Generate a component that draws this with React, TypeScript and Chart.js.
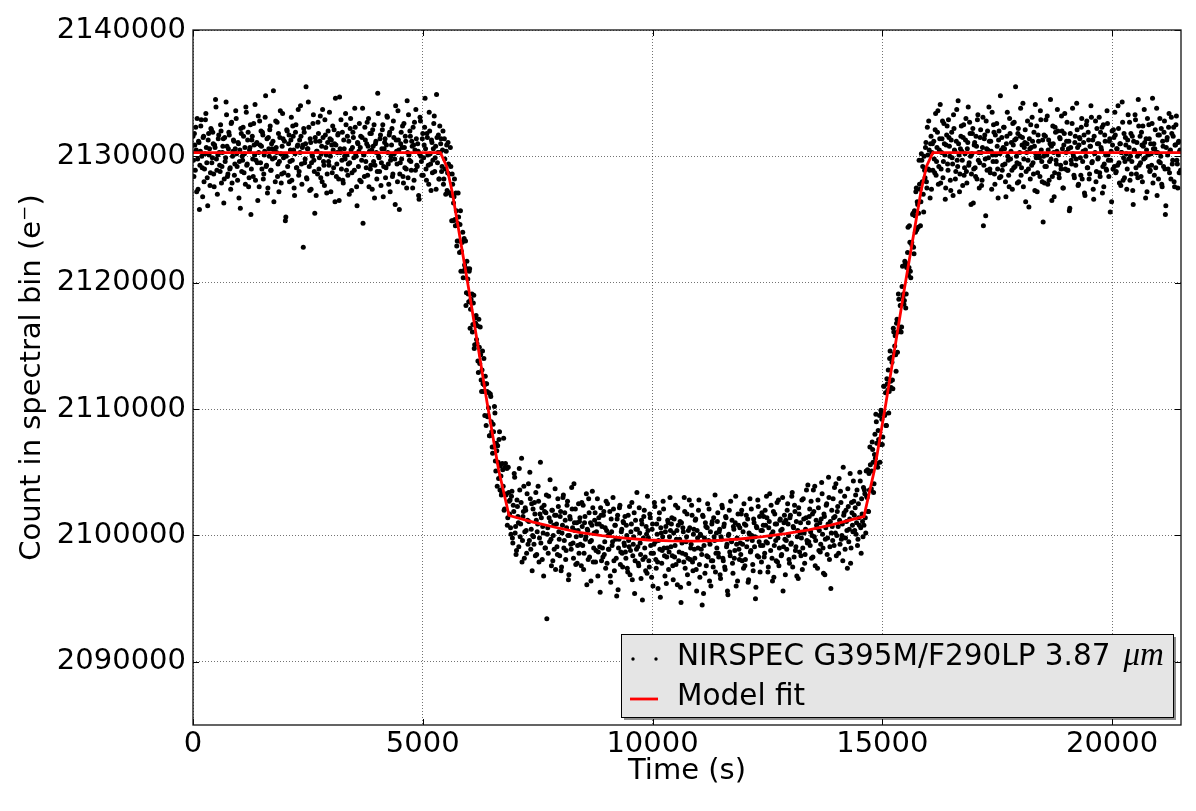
import React, { useEffect, useRef } from 'react';
import { Chart, registerables } from 'chart.js';

Chart.register(...registerables);

// exposure cadence of the light curve (s); counts below are in units of 1000 e-
// two interleaved read-out series, offset by half a cadence
const CADENCE_S = 20;
const segmentStartS = [0, 5400, 6900, 14600, 16120];
const segmentStartBS = [10, 5410, 6910, 14610, 16130];

const preTransitK = [
  2131.6, 2128.4, 2130.9, 2132.3, 2127.2, 2129.8, 2131.2, 2125.8, 2130.4, 2132.9, 2129.1, 2131.5, 2128.0, 2130.2, 2133.4,
  2129.5, 2126.1, 2131.8, 2130.6, 2128.7, 2132.1, 2129.9, 2131.0, 2127.6, 2130.7, 2133.9, 2128.9, 2130.1, 2131.7, 2129.3,
  2132.5, 2127.9, 2130.3, 2131.4, 2128.2, 2129.6, 2134.3, 2130.8, 2128.6, 2131.9, 2129.0, 2127.4, 2132.7, 2130.0, 2131.3,
  2128.5, 2130.6, 2133.0, 2129.2, 2131.1, 2126.7, 2130.5, 2132.2, 2128.8, 2129.7, 2131.6, 2130.2, 2127.8, 2133.5, 2129.4,
  2131.9, 2128.3, 2130.7, 2125.4, 2131.3, 2129.8, 2132.6, 2130.1, 2128.1, 2131.0, 2129.5, 2133.2, 2127.6, 2130.9, 2132.0,
  2129.0, 2131.7, 2128.6, 2130.4, 2134.8, 2129.3, 2127.1, 2131.5, 2130.0, 2132.4, 2128.9, 2130.6, 2131.2, 2126.4, 2129.9,
  2132.8, 2130.3, 2128.4, 2131.8, 2129.6, 2133.6, 2127.9, 2130.8, 2131.4, 2128.7, 2130.1, 2125.2, 2132.1, 2129.2, 2131.0,
  2128.0, 2130.5, 2133.1, 2129.7, 2131.6, 2127.5, 2130.2, 2132.5, 2129.1, 2130.9, 2128.5, 2131.3, 2134.0, 2129.4, 2130.7,
  2122.8, 2131.9, 2129.8, 2135.5, 2128.2, 2130.6, 2132.3, 2127.3, 2131.1, 2129.5, 2130.0, 2133.3, 2128.8, 2131.5, 2126.9,
  2130.4, 2132.7, 2129.0, 2131.2, 2128.3, 2130.8, 2133.7, 2129.6, 2127.7, 2131.7, 2130.1, 2128.6, 2132.0, 2129.3, 2131.4,
  2127.2, 2130.9, 2132.4, 2129.1, 2131.0, 2134.6, 2128.4, 2130.3, 2131.8, 2126.5, 2130.6, 2132.9, 2129.7, 2128.1, 2131.3,
  2130.0, 2133.4, 2128.9, 2131.6, 2129.4, 2127.0, 2132.2, 2130.5, 2128.7, 2131.9, 2129.9, 2133.8, 2130.2, 2127.6, 2131.1,
  2129.2, 2132.6, 2130.7, 2128.0, 2131.5, 2124.7, 2130.1, 2132.3, 2129.6, 2131.0, 2128.5, 2133.0, 2130.4, 2129.0, 2131.8,
  2127.4, 2130.8, 2132.5, 2129.3, 2131.2, 2128.2, 2135.0, 2130.0, 2128.8, 2131.7, 2129.5, 2132.1, 2126.8, 2130.6, 2131.4,
  2129.1, 2133.2, 2130.3, 2127.8, 2131.9, 2129.7, 2130.9, 2128.4, 2132.8, 2130.2, 2126.2, 2131.3, 2129.4, 2133.6, 2130.5,
  2128.6, 2131.0, 2129.8, 2132.4, 2127.9, 2130.7, 2131.6, 2129.0, 2134.4, 2128.3, 2130.1, 2132.0, 2129.6, 2131.2, 2127.5,
  2130.9, 2132.7, 2128.9, 2131.4, 2129.2, 2130.4, 2126.6, 2133.1, 2130.0, 2128.5, 2131.8, 2129.9, 2132.3, 2130.6, 2128.1,
  2131.5, 2129.3, 2133.5, 2130.2, 2127.3, 2131.1, 2129.7, 2132.6, 2128.8, 2130.8, 2134.9, 2129.5, 2131.7, 2128.2, 2130.3,
];
const preTransitBK = [
  2129.7, 2131.8, 2128.9, 2130.5, 2133.0, 2127.4, 2131.1, 2129.3, 2132.4, 2130.0, 2126.8, 2131.6, 2129.0, 2132.9, 2130.7,
  2128.3, 2131.3, 2130.1, 2127.7, 2132.2, 2129.5, 2131.9, 2128.6, 2130.9, 2134.5, 2129.8, 2127.0, 2131.4, 2130.3, 2128.8,
  2132.0, 2129.2, 2130.8, 2126.3, 2131.5, 2129.9, 2133.3, 2128.4, 2130.6, 2131.7, 2129.1, 2132.6, 2127.9, 2130.4, 2131.2,
  2129.4, 2133.6, 2130.2, 2128.1, 2131.0, 2129.6, 2125.9, 2131.8, 2130.0, 2132.3, 2128.7, 2130.7, 2133.9, 2129.3, 2131.3,
  2127.6, 2130.5, 2132.5, 2129.0, 2131.6, 2128.4, 2130.9, 2134.1, 2129.7, 2131.1, 2126.5, 2130.3, 2132.8, 2129.5, 2130.8,
  2131.9, 2128.2, 2130.1, 2133.1, 2129.2, 2131.4, 2127.5, 2130.6, 2132.1, 2128.9, 2131.0, 2129.8, 2135.2, 2130.4, 2128.0,
  2130.7, 2132.7, 2129.4, 2127.2, 2131.5, 2130.2, 2128.6, 2133.4, 2129.9, 2131.2, 2124.9, 2130.0, 2132.0, 2128.5, 2131.7,
  2129.6, 2131.3, 2128.1, 2132.4, 2130.5, 2126.9, 2131.9, 2129.1, 2130.8, 2133.7, 2128.8, 2130.3, 2131.6, 2127.8, 2130.9,
  2132.2, 2129.5, 2131.0, 2128.3, 2130.6, 2134.3, 2129.2, 2131.4, 2127.4, 2130.1, 2132.6, 2129.7, 2125.5, 2131.2, 2130.4,
  2128.6, 2131.8, 2129.9, 2133.2, 2130.2, 2128.0, 2131.5, 2129.3, 2132.9, 2130.7, 2127.1, 2131.1, 2129.6, 2133.5, 2130.0,
  2131.3, 2128.7, 2130.5, 2132.1, 2126.4, 2130.9, 2129.4, 2131.7, 2128.2, 2134.7, 2130.3, 2129.0, 2131.9, 2127.9, 2130.6,
  2129.8, 2132.5, 2130.1, 2128.5, 2131.2, 2129.5, 2133.0, 2127.3, 2130.7, 2131.5, 2128.9, 2132.3, 2130.0, 2126.1, 2131.0,
  2130.4, 2128.1, 2131.6, 2129.7, 2133.8, 2130.2, 2128.4, 2131.3, 2129.1, 2132.7, 2130.8, 2127.6, 2131.8, 2129.3, 2130.5,
  2132.1, 2129.6, 2126.7, 2131.0, 2130.3, 2128.8, 2133.4, 2129.9, 2131.4, 2127.7, 2130.6, 2132.5, 2129.2, 2131.1, 2128.3,
  2130.9, 2133.1, 2129.4, 2131.7, 2127.2, 2130.0, 2132.2, 2128.6, 2131.5, 2129.8, 2134.0, 2130.4, 2128.0, 2131.3, 2125.8,
  2129.5, 2131.9, 2130.7, 2128.4, 2132.6, 2129.1, 2131.2, 2127.5, 2130.3, 2133.3, 2129.7, 2131.6, 2128.9, 2130.8, 2132.3,
  2128.1, 2130.5, 2133.7, 2129.3, 2131.0, 2126.9, 2130.2, 2132.8, 2129.6, 2131.4, 2128.5, 2130.9, 2134.6, 2129.0, 2131.8,
  2130.1, 2127.8, 2132.0, 2129.4, 2131.3, 2128.7, 2130.6, 2133.2, 2129.9, 2127.4, 2131.5, 2130.3, 2128.2, 2132.4, 2131.0,
];

const ingressK = [
  2131.4, 2129.2, 2132.0, 2128.2, 2129.8, 2127.0, 2130.9, 2128.7, 2129.4, 2127.1, 2130.7, 2126.9, 2128.6, 2124.9, 2126.8,
  2125.0, 2127.1, 2122.9, 2124.7, 2125.2, 2122.4, 2125.7, 2122.5, 2123.2, 2120.4, 2123.5, 2121.1, 2118.2, 2121.7, 2120.3,
  2118.5, 2121.1, 2117.9, 2118.4, 2116.1, 2118.4, 2114.8, 2117.2, 2117.4, 2115.2, 2113.8, 2117.1, 2113.6, 2114.3, 2111.4,
  2114.6, 2111.4, 2111.9, 2112.6, 2108.7, 2111.4, 2109.5, 2111.3, 2107.9, 2111.0, 2108.2, 2106.5, 2108.2, 2110.2, 2105.9,
  2107.3, 2103.9, 2105.8, 2107.6, 2103.6, 2104.7, 2103.4, 2105.2, 2107.7, 2102.1, 2105.7, 2103.3, 2100.8, 2105.4, 2102.7,
];
const ingressBK = [
  2128.8, 2130.5, 2127.8, 2131.4, 2129.0, 2130.4, 2127.3, 2131.1, 2128.6, 2127.1, 2129.2, 2124.9, 2127.8, 2126.3, 2128.2,
  2124.5, 2125.7, 2123.3, 2127.1, 2123.3, 2124.6, 2120.9, 2123.2, 2124.0, 2120.9, 2121.4, 2123.3, 2119.2, 2121.1, 2119.1,
  2120.9, 2116.4, 2118.7, 2119.1, 2116.7, 2119.0, 2115.1, 2116.8, 2115.5, 2116.6, 2112.9, 2114.9, 2116.5, 2112.3, 2113.1,
  2112.0, 2114.0, 2109.5, 2112.0, 2112.0, 2109.4, 2110.1, 2107.9, 2111.2, 2109.0, 2107.0, 2108.8, 2107.0, 2109.7, 2105.1,
  2106.7, 2107.1, 2104.5, 2108.2, 2105.5, 2103.2, 2105.7, 2103.9, 2102.0, 2105.4, 2103.2, 2105.3, 2101.4, 2103.4, 2101.7,
];

const inTransitK = [
  2102.8, 2100.1, 2103.5, 2099.4, 2101.9, 2104.6, 2100.7, 2098.8, 2102.3, 2101.0, 2105.3, 2099.9, 2102.6, 2097.9, 2101.5, 2103.9, 2100.3, 2102.0, 2098.6, 2101.2, 2104.1, 2099.6, 2102.9, 2100.5, 2097.2,
  2102.1, 2099.3, 2101.7, 2103.4, 2098.5, 2100.9, 2102.7, 2099.8, 2105.8, 2101.4, 2098.1, 2100.2, 2102.4, 2099.0, 2101.8, 2093.4, 2100.6, 2103.1, 2099.5, 2101.1, 2097.6, 2102.0, 2100.0, 2098.9, 2103.7,
  2101.6, 2099.1, 2102.9, 2100.3, 2098.4, 2101.9, 2097.5, 2100.8, 2103.2, 2099.6, 2101.2, 2098.8, 2102.4, 2100.0, 2096.9, 2101.5, 2099.3, 2103.8, 2100.6, 2098.2, 2101.0, 2102.1, 2099.9, 2097.8, 2100.4,
  2098.6, 2101.4, 2100.0, 2102.6, 2099.2, 2097.3, 2101.0, 2099.7, 2103.3, 2100.5, 2098.1, 2101.8, 2099.5, 2096.4, 2100.8, 2102.2, 2099.0, 2101.2, 2097.9, 2100.3, 2102.9, 2098.7, 2100.9, 2095.5, 2101.6,
  2100.7, 2098.3, 2101.9, 2099.5, 2097.4, 2100.4, 2102.5, 2098.9, 2100.1, 2096.8, 2101.3, 2099.2, 2103.0, 2098.0, 2100.8, 2099.7, 2095.2, 2101.6, 2099.0, 2102.2, 2097.7, 2100.3, 2098.6, 2101.1, 2099.4,
  2101.5, 2098.2, 2100.0, 2097.1, 2099.6, 2102.3, 2098.8, 2100.9, 2096.5, 2099.3, 2101.8, 2098.0, 2100.5, 2103.4, 2099.1, 2097.6, 2100.2, 2098.5, 2101.2, 2094.9, 2099.8, 2102.0, 2098.3, 2100.7, 2097.0,
  2100.4, 2098.0, 2101.7, 2099.2, 2096.7, 2100.9, 2098.6, 2102.6, 2099.5, 2097.4, 2100.1, 2095.8, 2101.3, 2098.9, 2100.6, 2097.8, 2099.9, 2102.1, 2098.4, 2100.3, 2096.2, 2099.0, 2101.0, 2098.7, 2103.0,
  2099.1, 2101.4, 2097.6, 2100.2, 2098.3, 2102.4, 2099.7, 2096.1, 2100.8, 2098.7, 2101.1, 2094.7, 2099.4, 2100.6, 2097.9, 2101.9, 2098.5, 2099.9, 2096.9, 2100.4, 2102.8, 2098.1, 2099.3, 2101.6, 2097.2,
  2100.5, 2098.2, 2101.3, 2095.6, 2099.8, 2102.0, 2097.7, 2100.1, 2098.9, 2094.5, 2101.5, 2099.2, 2097.0, 2100.7, 2098.4, 2102.5, 2099.6, 2096.4, 2100.3, 2098.0, 2101.1, 2097.5, 2099.9, 2103.2, 2098.6,
  2099.0, 2101.8, 2098.3, 2100.5, 2096.6, 2099.7, 2102.2, 2098.0, 2100.9, 2097.3, 2101.4, 2099.3, 2095.3, 2100.1, 2098.7, 2102.7, 2099.5, 2097.8, 2100.7, 2098.2, 2101.0, 2096.0, 2099.8, 2101.7, 2098.9,
  2100.6, 2098.5, 2102.0, 2099.3, 2097.4, 2100.9, 2098.1, 2101.6, 2099.7, 2096.3, 2100.2, 2102.9, 2098.8, 2100.0, 2097.7, 2101.3, 2099.1, 2095.0, 2100.7, 2098.4, 2102.3, 2099.5, 2097.1, 2100.4, 2101.8,
  2099.2, 2101.5, 2098.6, 2100.8, 2103.1, 2099.4, 2097.5, 2101.1, 2099.9, 2102.4, 2098.2, 2100.3, 2096.7, 2101.7, 2099.6, 2100.9, 2097.9, 2102.8, 2099.0, 2101.3, 2098.4, 2100.5, 2095.6, 2101.0, 2099.7,
  2101.2, 2098.9, 2102.5, 2100.0, 2097.8, 2101.6, 2099.4, 2103.4, 2100.7, 2098.3, 2101.9, 2099.1, 2096.8, 2100.4, 2102.2, 2098.7, 2101.0, 2099.8, 2097.3, 2102.9, 2100.2, 2098.5, 2101.4, 2099.6, 2104.0,
  2099.5, 2102.1, 2100.3, 2098.2, 2101.7, 2103.6, 2099.9, 2097.6, 2101.2, 2100.6, 2102.8, 2098.8, 2101.0, 2099.3, 2104.2, 2100.1, 2097.0, 2101.5, 2099.7, 2102.4, 2098.5, 2100.9, 2103.0, 2099.1, 2095.8,
  2102.0, 2099.6, 2101.4, 2103.8, 2100.2, 2098.4, 2101.9, 2100.7, 2104.5, 2099.3, 2102.6, 2100.0, 2098.0, 2101.6, 2103.1, 2099.8, 2101.1, 2097.4, 2102.3, 2100.5, 2104.9, 2099.0, 2101.8, 2100.3, 2102.7,
  2100.4, 2103.2, 2101.0, 2099.2, 2102.5, 2100.8, 2104.3, 2098.6, 2101.7, 2099.9,
];
const inTransitBK = [
  2100.6, 2103.1, 2099.8, 2102.4, 2104.9, 2100.2, 2098.5, 2102.8, 2101.5, 2099.1, 2103.6, 2100.9, 2106.1, 2099.6, 2101.9, 2098.2, 2102.2, 2100.4, 2103.3, 2099.3, 2101.1, 2105.0, 2098.9, 2102.5, 2100.0,
  2099.9, 2102.6, 2098.4, 2101.2, 2100.3, 2103.9, 2097.9, 2101.7, 2099.4, 2102.2, 2100.7, 2096.8, 2101.9, 2099.0, 2103.2, 2100.1, 2098.6, 2101.4, 2104.4, 2099.7, 2102.0, 2098.0, 2100.8, 2101.6, 2097.3,
  2100.9, 2098.5, 2102.3, 2099.7, 2101.5, 2097.2, 2100.2, 2103.0, 2099.0, 2101.8, 2098.1, 2100.6, 2102.7, 2096.5, 2100.0, 2101.3, 2098.9, 2102.1, 2099.4, 2104.1, 2100.4, 2097.7, 2101.0, 2099.2, 2102.5,
  2101.1, 2099.3, 2097.6, 2100.7, 2102.4, 2098.6, 2101.5, 2099.9, 2096.1, 2100.4, 2102.9, 2098.3, 2101.0, 2099.6, 2103.5, 2097.9, 2100.2, 2101.8, 2098.8, 2100.9, 2096.8, 2101.4, 2099.1, 2102.2, 2098.0,
  2099.0, 2101.6, 2098.5, 2100.6, 2102.7, 2097.8, 2100.0, 2098.9, 2101.9, 2096.3, 2100.3, 2099.5, 2102.1, 2097.2, 2100.8, 2098.2, 2101.3, 2095.7, 2099.7, 2102.4, 2098.7, 2100.5, 2097.5, 2101.0, 2099.2,
  2098.7, 2100.8, 2097.4, 2101.6, 2099.1, 2096.9, 2100.3, 2102.6, 2098.4, 2099.9, 2095.4, 2101.2, 2098.9, 2100.5, 2097.8, 2102.2, 2099.4, 2096.6, 2100.9, 2098.1, 2101.5, 2099.0, 2097.2, 2100.1, 2103.1,
  2099.8, 2097.5, 2101.4, 2098.6, 2100.5, 2096.0, 2099.3, 2102.3, 2098.1, 2100.9, 2097.9, 2099.6, 2101.8, 2095.1, 2100.2, 2098.8, 2102.7, 2099.0, 2096.8, 2100.7, 2098.3, 2101.2, 2097.3, 2099.9, 2100.4,
  2100.9, 2098.4, 2096.5, 2101.3, 2099.2, 2097.7, 2100.4, 2102.2, 2098.0, 2099.7, 2095.9, 2101.0, 2098.6, 2100.3, 2103.0, 2097.4, 2099.5, 2101.7, 2098.2, 2096.2, 2100.6, 2099.0, 2102.4, 2097.9, 2100.1,
  2098.9, 2101.2, 2097.3, 2100.4, 2099.0, 2102.8, 2096.7, 2100.0, 2098.5, 2101.6, 2095.4, 2099.8, 2101.0, 2097.6, 2100.6, 2098.3, 2102.1, 2099.3, 2096.0, 2100.9, 2098.0, 2101.4, 2099.6, 2097.1, 2100.2,
  2101.1, 2098.6, 2100.3, 2096.9, 2099.9, 2102.4, 2098.2, 2100.7, 2097.5, 2101.5, 2099.1, 2095.6, 2100.0, 2102.0, 2098.4, 2099.6, 2101.2, 2097.0, 2100.5, 2098.8, 2103.1, 2099.3, 2096.4, 2100.8, 2098.1,
  2099.4, 2101.7, 2098.0, 2100.3, 2102.5, 2097.6, 2100.8, 2099.1, 2101.3, 2096.5, 2100.1, 2098.7, 2102.1, 2099.6, 2097.2, 2101.0, 2099.9, 2095.9, 2100.6, 2102.8, 2098.3, 2101.5, 2099.2, 2097.9, 2100.4,
  2100.8, 2098.3, 2102.0, 2099.5, 2101.4, 2097.1, 2100.6, 2103.3, 2098.8, 2100.1, 2096.4, 2101.9, 2099.2, 2100.9, 2098.0, 2102.6, 2099.8, 2097.6, 2101.2, 2100.4, 2098.5, 2103.0, 2099.1, 2101.6, 2096.9,
  2099.6, 2102.0, 2100.9, 2098.1, 2101.4, 2099.3, 2103.1, 2097.5, 2100.6, 2102.4, 2098.8, 2101.1, 2099.9, 2096.6, 2101.7, 2100.2, 2098.4, 2102.8, 2099.0, 2101.3, 2097.8, 2100.5, 2103.6, 2099.4, 2101.0,
  2101.5, 2099.2, 2102.7, 2100.0, 2098.3, 2101.9, 2103.9, 2099.6, 2100.8, 2097.4, 2102.2, 2100.4, 2098.7, 2101.3, 2103.3, 2099.0, 2101.7, 2096.9, 2100.6, 2102.5, 2099.8, 2104.6, 2098.1, 2101.1, 2100.2,
  2100.7, 2102.9, 2099.2, 2101.5, 2104.1, 2100.0, 2102.3, 2098.6, 2101.2, 2103.5, 2099.7, 2100.9, 2105.4, 2101.8, 2098.9, 2102.0, 2100.4, 2103.7, 2099.5, 2101.3, 2097.8, 2102.6, 2100.8, 2104.3, 2101.6,
  2102.2, 2100.1, 2103.6, 2099.7, 2101.4, 2105.0, 2100.6, 2102.9, 2101.1, 2103.8,
];

const egressK = [
  2100.8, 2103.3, 2100.2, 2103.1, 2105.2, 2101.9, 2103.6, 2105.6, 2103.7, 2107.4, 2105.8, 2104.1, 2108.0, 2109.6, 2107.3,
  2105.4, 2107.6, 2109.5, 2107.2, 2109.7, 2107.2, 2109.6, 2111.8, 2109.6, 2108.7, 2112.4, 2111.5, 2109.7, 2114.0, 2112.2,
  2114.1, 2112.3, 2116.4, 2114.4, 2115.8, 2113.0, 2117.1, 2116.1, 2118.7, 2116.2, 2118.2, 2116.5, 2121.3, 2119.1, 2118.6,
  2121.5, 2119.1, 2121.5, 2124.4, 2121.2, 2123.2, 2120.4, 2123.2, 2125.4, 2122.8, 2125.7, 2124.0, 2127.5, 2126.4, 2124.4,
  2129.7, 2127.4, 2126.4, 2129.7, 2129.2, 2125.6, 2128.9, 2130.7, 2128.0, 2132.3, 2129.0, 2130.5, 2126.7, 2131.6, 2130.3,
  2128.9,
];
const egressBK = [
  2103.6, 2101.4, 2105.1, 2103.0, 2101.9, 2104.9, 2107.0, 2103.6, 2105.1, 2106.8, 2103.4, 2106.4, 2106.1, 2109.0, 2105.7,
  2108.3, 2107.3, 2105.8, 2109.9, 2109.2, 2107.8, 2111.8, 2109.5, 2111.3, 2108.7, 2112.0, 2113.1, 2111.4, 2114.6, 2111.7,
  2113.7, 2111.6, 2116.1, 2115.0, 2114.3, 2116.8, 2114.5, 2119.1, 2116.5, 2118.2, 2116.1, 2119.7, 2118.9, 2118.3, 2121.7,
  2118.0, 2121.2, 2122.4, 2120.6, 2124.5, 2120.9, 2123.1, 2122.9, 2125.5, 2122.3, 2125.3, 2127.2, 2124.2, 2126.2, 2125.5,
  2127.8, 2124.5, 2130.2, 2128.0, 2127.0, 2130.0, 2128.3, 2131.1, 2127.5, 2130.1, 2132.8, 2128.9, 2131.0, 2127.4, 2131.0,
];

const postTransitK = [
  2131.2, 2128.7, 2133.4, 2129.6, 2131.9, 2127.8, 2130.5, 2134.1, 2129.0, 2131.4, 2128.3, 2132.6, 2130.1, 2127.5, 2131.7,
  2129.4, 2132.9, 2130.8, 2128.1, 2131.3, 2129.9, 2126.9, 2132.2, 2130.4, 2128.8, 2133.7, 2129.2, 2131.0, 2127.2, 2130.6,
  2132.4, 2129.7, 2131.5, 2128.5, 2130.2, 2133.0, 2127.9, 2131.1, 2129.3, 2132.7, 2130.0, 2128.6, 2131.8, 2126.3, 2130.9,
  2129.1, 2131.6, 2128.2, 2133.3, 2130.3, 2129.5, 2132.1, 2127.7, 2130.7, 2124.5, 2131.4, 2129.8, 2132.8, 2128.9, 2130.5,
  2133.9, 2129.0, 2131.2, 2127.4, 2130.1, 2132.5, 2128.6, 2131.7, 2129.6, 2130.8, 2126.7, 2132.0, 2130.2, 2128.4, 2131.5,
  2129.3, 2132.3, 2130.6, 2128.0, 2131.0, 2133.5, 2129.7, 2127.6, 2131.8, 2130.4, 2128.9, 2132.6, 2129.1, 2131.3, 2135.5,
  2130.0, 2127.9, 2132.2, 2129.4, 2131.6, 2128.5, 2130.9, 2134.2, 2129.8, 2131.1, 2126.4, 2130.3, 2132.8, 2129.0, 2131.4,
  2128.2, 2130.7, 2133.1, 2129.5, 2131.9, 2127.3, 2130.2, 2132.4, 2128.7, 2131.2, 2129.9, 2133.6, 2130.5, 2128.0, 2124.8,
  2131.7, 2129.2, 2132.9, 2130.1, 2127.8, 2131.3, 2129.6, 2134.5, 2130.8, 2128.4, 2131.0, 2126.8, 2132.3, 2129.7, 2130.4,
  2132.0, 2128.6, 2131.5, 2129.3, 2133.2, 2130.6, 2127.5, 2131.8, 2129.0, 2130.3, 2132.7, 2128.9, 2131.2, 2125.9, 2130.7,
  2129.4, 2133.8, 2130.0, 2128.3, 2131.6, 2129.8, 2132.1, 2127.7, 2130.9, 2131.4, 2128.5, 2133.0, 2129.6, 2131.1, 2127.1,
  2130.5, 2132.5, 2129.1, 2131.9, 2128.2, 2130.8, 2134.0, 2129.5, 2131.3, 2126.6, 2130.2, 2132.8, 2128.8, 2131.0, 2129.9,
  2133.1, 2128.4, 2130.7, 2132.3, 2129.2, 2127.6, 2131.7, 2130.1, 2128.9, 2132.6, 2129.7, 2131.2, 2125.6, 2130.4, 2132.0,
  2129.0, 2131.5, 2133.5, 2128.7, 2130.6, 2129.3, 2132.2, 2127.9, 2131.0, 2130.3, 2134.3, 2128.1, 2131.8, 2129.6, 2130.9,
  2127.4, 2131.3, 2129.8, 2132.7, 2130.0, 2128.6, 2131.6, 2126.2, 2130.5, 2133.3, 2129.1, 2131.1, 2128.3, 2132.4, 2130.2,
  2129.5, 2131.9, 2128.0, 2130.8, 2133.7, 2129.9, 2131.4, 2127.2, 2130.1, 2132.5, 2128.8, 2131.0, 2129.3, 2134.6, 2130.6,
  2128.5, 2132.1, 2130.3, 2126.9, 2131.7, 2129.6, 2133.0, 2130.0, 2127.8, 2131.2, 2129.2, 2132.8, 2125.4, 2130.7, 2131.5,
  2129.0, 2133.4, 2130.4, 2128.2, 2131.8, 2129.7, 2132.3, 2127.6, 2130.9, 2133.2, 2129.4, 2131.1, 2128.7, 2130.5,
];
const postTransitBK = [
  2129.8, 2132.1, 2128.5, 2130.7, 2133.6, 2129.2, 2131.4, 2127.9, 2130.3, 2132.8, 2129.6, 2131.0, 2126.6, 2130.9, 2132.4,
  2128.9, 2131.5, 2130.0, 2127.3, 2131.9, 2129.4, 2133.3, 2130.5, 2128.2, 2131.2, 2129.7, 2134.4, 2130.1, 2128.6, 2131.6,
  2130.4, 2127.7, 2132.5, 2129.1, 2131.3, 2128.8, 2130.6, 2133.9, 2129.5, 2131.8, 2126.2, 2130.2, 2132.2, 2129.0, 2131.1,
  2128.4, 2130.8, 2132.9, 2129.7, 2127.5, 2131.5, 2130.3, 2128.1, 2133.1, 2129.3, 2131.7, 2125.3, 2130.6, 2132.0, 2129.9,
  2131.2, 2128.7, 2130.4, 2133.5, 2129.6, 2131.9, 2127.8, 2130.1, 2132.6, 2129.0, 2131.3, 2128.3, 2134.8, 2130.5, 2128.9,
  2130.7, 2132.3, 2129.4, 2126.8, 2131.6, 2130.0, 2128.5, 2133.0, 2129.8, 2131.1, 2127.4, 2130.9, 2132.7, 2129.2, 2131.4,
  2129.5, 2131.8, 2128.0, 2130.3, 2133.8, 2129.1, 2131.5, 2127.6, 2130.7, 2132.1, 2128.8, 2131.0, 2129.7, 2126.0, 2130.6,
  2132.5, 2129.3, 2131.2, 2128.6, 2130.8, 2134.1, 2129.9, 2127.2, 2131.7, 2130.2, 2128.4, 2132.9, 2129.6, 2131.3, 2130.0,
  2127.9, 2131.6, 2129.2, 2133.2, 2130.5, 2128.1, 2131.0, 2129.8, 2126.5, 2132.4, 2130.3, 2128.7, 2131.9, 2129.4, 2133.7,
  2130.1, 2128.3, 2131.4, 2129.0, 2132.0, 2127.5, 2130.9, 2133.4, 2129.5, 2131.2, 2128.9, 2130.6, 2125.7, 2131.8, 2129.7,
  2132.6, 2130.2, 2128.5, 2131.1, 2129.3, 2134.2, 2130.7, 2127.8, 2131.5, 2129.9, 2132.3, 2128.2, 2130.4, 2131.7, 2126.9,
  2130.0, 2132.8, 2129.1, 2131.3, 2128.6, 2130.8, 2133.1, 2129.6, 2127.4, 2131.6, 2130.3, 2128.0, 2132.2, 2129.8, 2131.0,
  2128.7, 2131.9, 2130.5, 2127.1, 2132.5, 2129.4, 2131.2, 2129.0, 2133.6, 2130.1, 2128.4, 2131.4, 2129.7, 2126.4, 2130.9,
  2132.1, 2129.2, 2131.7, 2128.8, 2130.6, 2134.0, 2129.5, 2131.0, 2127.7, 2130.3, 2132.7, 2129.9, 2128.3, 2131.5, 2130.2,
  2129.0, 2133.3, 2130.7, 2128.1, 2131.8, 2129.6, 2127.3, 2131.2, 2130.4, 2132.9, 2128.6, 2130.0, 2134.5, 2129.3, 2131.6,
  2128.4, 2130.9, 2132.4, 2129.8, 2131.1, 2126.7, 2130.5, 2133.0, 2129.2, 2131.4, 2128.9, 2130.2, 2132.6, 2127.9, 2131.0,
  2130.6, 2129.1, 2133.8, 2130.3, 2128.2, 2131.7, 2129.5, 2132.2, 2127.6, 2130.8, 2131.9, 2129.0, 2126.1, 2131.3, 2130.1,
  2132.3, 2128.7, 2130.5, 2133.1, 2129.4, 2131.6, 2128.0, 2130.9, 2132.5, 2129.7, 2127.5, 2131.2, 2130.4, 2128.9,
];

// model fit (transit light curve), same units
const modelTimeS = [
  0, 5384, 5520, 5640, 6000, 6400, 6650, 6877, 7400, 7900, 8400, 8900, 9400, 9900, 10400, 10900,
  11400, 11900, 12400, 12900, 13400, 13900, 14400, 14600, 14830, 15080, 15480, 15840, 15960, 16100, 21500,
];
const modelCountK = [
  2130.3, 2130.3, 2129.2, 2127.2, 2119.5, 2110.5, 2105.2, 2101.58, 2101.05, 2100.63, 2100.24, 2099.98, 2099.79, 2099.64, 2099.57, 2099.55,
  2099.6, 2099.72, 2099.9, 2100.14, 2100.44, 2100.84, 2101.32, 2101.5, 2105.2, 2110.5, 2119.5, 2127.2, 2129.2, 2130.3, 2130.3,
];

const xTicks = [0, 5000, 10000, 15000, 20000];
const yTicks = [2090000, 2100000, 2110000, 2120000, 2130000, 2140000];
const X_MIN = 0;
const X_MAX = 21500;
const Y_MIN = 2085000;
const Y_MAX = 2140000;

const seriesLabel = 'NIRSPEC G395M/F290LP 3.87';
const seriesUnit = 'μm';
const modelLabel = 'Model fit';
const xTitle = 'Time (s)';
const yTitle = 'Count in spectral bin (e⁻)';

const FONT = '"DejaVu Sans", sans-serif';
const MATH_FONT = '"Liberation Serif", "DejaVu Serif", serif';
const FONT_SIZE = 29;
const MODEL_COLOR = '#ff0000';
const TICK_LEN = 6;

const toPoints = (segments: number[][], starts: number[]) =>
  segments.flatMap((seg, s) => seg.map((k, i) => ({ x: starts[s] + i * CADENCE_S, y: k * 1000 })));

const observed = [
  ...toPoints([preTransitK, ingressK, inTransitK, egressK, postTransitK], segmentStartS),
  ...toPoints([preTransitBK, ingressBK, inTransitBK, egressBK, postTransitBK], segmentStartBS),
];
const model = modelTimeS.map((t, i) => ({ x: t, y: modelCountK[i] * 1000 }));

// frame around the axes plus inward ticks on all four sides
const axesFramePlugin = {
  id: 'axesFrame',
  afterDatasetsDraw(chart: any) {
    const { ctx, chartArea: a, scales } = chart;
    ctx.save();
    ctx.strokeStyle = '#000';
    ctx.lineWidth = 1;
    ctx.beginPath();
    for (const v of xTicks) {
      const px = Math.round(scales.x.getPixelForValue(v)) + 0.5;
      ctx.moveTo(px, a.bottom);
      ctx.lineTo(px, a.bottom - TICK_LEN);
      ctx.moveTo(px, a.top);
      ctx.lineTo(px, a.top + TICK_LEN);
    }
    for (const v of yTicks) {
      const py = Math.round(scales.y.getPixelForValue(v)) + 0.5;
      ctx.moveTo(a.left, py);
      ctx.lineTo(a.left + TICK_LEN, py);
      ctx.moveTo(a.right, py);
      ctx.lineTo(a.right - TICK_LEN, py);
    }
    ctx.stroke();
    ctx.lineWidth = 1.3;
    ctx.strokeStyle = '#111';
    ctx.strokeRect(a.left, a.top, a.right - a.left, a.bottom - a.top);
    ctx.restore();
  },
};

// matplotlib-like legend box in the lower right, with shadow
const boxLegendPlugin = {
  id: 'boxLegend',
  afterDraw(chart: any) {
    const { ctx, chartArea: a } = chart;
    const textFont = `29.5px ${FONT}`;
    const mathFont = `italic 33px ${MATH_FONT}`;
    ctx.save();
    ctx.font = textFont;
    const textW = ctx.measureText(seriesLabel).width;
    ctx.font = mathFont;
    const unitW = ctx.measureText(seriesUnit).width;
    const gap = 13;
    const w = Math.round(56 + textW + gap + unitW + 9);
    const h = 83;
    const right = Math.round(a.right) - 8;
    const bottom = Math.round(a.bottom) - 8;
    const left = right - w;
    const top = bottom - h;

    ctx.fillStyle = 'rgba(0,0,0,0.45)';
    ctx.fillRect(left + 3, top + 3, w, h);
    ctx.fillStyle = '#e5e5e5';
    ctx.fillRect(left, top, w, h);
    ctx.strokeStyle = '#000';
    ctx.lineWidth = 1;
    ctx.strokeRect(left + 0.5, top + 0.5, w, h);

    const r1 = top + 25;
    const r2 = top + 65;
    ctx.fillStyle = '#000';
    for (const dx of [12, 35]) {
      ctx.beginPath();
      ctx.arc(left + dx, r1, 1.7, 0, Math.PI * 2);
      ctx.fill();
    }
    ctx.strokeStyle = MODEL_COLOR;
    ctx.lineWidth = 2.8;
    ctx.beginPath();
    ctx.moveTo(left + 9, r2);
    ctx.lineTo(left + 37, r2);
    ctx.stroke();

    ctx.fillStyle = '#000';
    ctx.textAlign = 'left';
    ctx.textBaseline = 'alphabetic';
    ctx.font = textFont;
    ctx.fillText(seriesLabel, left + 56, r1 + 6);
    ctx.fillText(modelLabel, left + 56, r2 + 6);
    ctx.font = mathFont;
    ctx.fillText(seriesUnit, left + 56 + textW + gap, r1 + 6);
    ctx.restore();
  },
};

export default function App() {
  const canvasRef = useRef<HTMLCanvasElement | null>(null);
  const chartRef = useRef<Chart | null>(null);

  useEffect(() => {
    document.body.style.margin = '0';
    if (!canvasRef.current) return;
    if (chartRef.current) chartRef.current.destroy();

    const tickFont = { size: FONT_SIZE, family: FONT };
    const gridOpts = { color: 'rgba(0,0,0,0.55)', lineWidth: 1, drawTicks: false };

    chartRef.current = new Chart(canvasRef.current, {
      type: 'scatter',
      data: {
        datasets: [
          {
            type: 'line',
            label: modelLabel,
            data: model,
            borderColor: MODEL_COLOR,
            borderWidth: 2.8,
            pointRadius: 0,
            fill: false,
            tension: 0,
            order: 0,
          },
          {
            type: 'scatter',
            label: `${seriesLabel} ${seriesUnit}`,
            data: observed,
            backgroundColor: '#000',
            borderWidth: 0,
            pointRadius: 2.5,
            pointHoverRadius: 2.5,
            order: 1,
          },
        ],
      },
      options: {
        animation: false,
        responsive: false,
        events: [],
        layout: { padding: { top: 30, right: 15, left: 0, bottom: 0 } },
        plugins: {
          legend: { display: false },
          tooltip: { enabled: false },
        },
        scales: {
          x: {
            type: 'linear',
            position: 'bottom',
            min: X_MIN,
            max: X_MAX,
            afterBuildTicks: (scale: any) => {
              scale.ticks = xTicks.map((v) => ({ value: v }));
            },
            afterFit: (scale: any) => {
              scale.height = 86;
            },
            ticks: {
              color: '#000',
              font: tickFont,
              padding: 2,
              maxRotation: 0,
              autoSkip: false,
              callback: (v: any) => String(v),
            },
            grid: gridOpts,
            border: { display: false, dash: [1, 2] },
            title: {
              display: true,
              text: xTitle,
              color: '#000',
              font: tickFont,
              padding: { top: 0, bottom: 22 },
            },
          },
          y: {
            type: 'linear',
            min: Y_MIN,
            max: Y_MAX,
            afterBuildTicks: (scale: any) => {
              scale.ticks = yTicks.map((v) => ({ value: v }));
            },
            afterFit: (scale: any) => {
              scale.width = 193;
            },
            ticks: {
              color: '#000',
              font: tickFont,
              padding: 7,
              autoSkip: false,
              callback: (v: any) => String(v),
            },
            grid: gridOpts,
            border: { display: false, dash: [1, 2] },
            title: {
              display: true,
              text: yTitle,
              color: '#000',
              font: tickFont,
              padding: { top: 15, bottom: 0 },
            },
          },
        },
      },
      plugins: [axesFramePlugin, boxLegendPlugin],
    });

    return () => {
      if (chartRef.current) {
        chartRef.current.destroy();
        chartRef.current = null;
      }
    };
  }, []);

  return <canvas ref={canvasRef} width={1196} height={811} style={{ display: 'block' }} />;
}
